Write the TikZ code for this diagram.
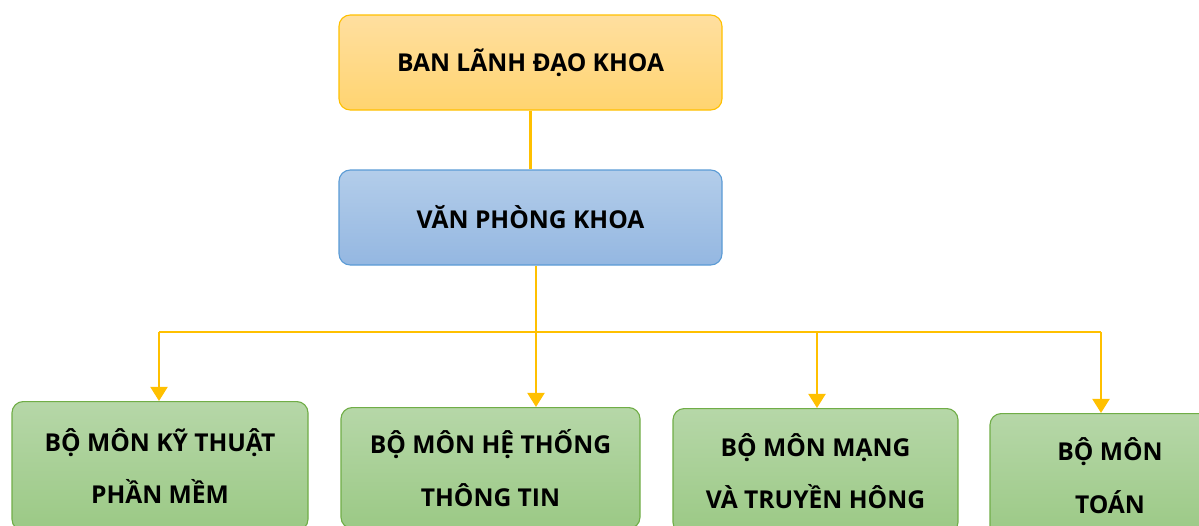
\documentclass[tikz,border=0pt]{standalone}
\usepackage{fontspec}
\setmainfont{Open Sans}
\usetikzlibrary{arrows.meta}
\definecolor{vang}{HTML}{FFC000}
\definecolor{camtren}{HTML}{FFDFA0}
\definecolor{camduoi}{HTML}{FFD470}
\definecolor{xanhtren}{HTML}{B3CDEA}
\definecolor{xanhduoi}{HTML}{94B7E1}
\definecolor{vienxanh}{HTML}{5B9BD5}
\definecolor{lactren}{HTML}{B6D7A8}
\definecolor{lacduoi}{HTML}{9BC985}
\definecolor{vienlac}{HTML}{70AD47}
\tikzset{
  hop/.style={draw, rounded corners=8pt, line width=0.8pt, align=center,
    font=\fontsize{17.5}{37.5}\selectfont\bfseries},
  hopcam/.style={hop, draw=vang, top color=camtren, bottom color=camduoi,
    minimum width=383*0.025cm, minimum height=95*0.025cm},
  hopxanh/.style={hop, draw=vienxanh, top color=xanhtren, bottom color=xanhduoi,
    minimum width=383*0.025cm, minimum height=95*0.025cm},
  hopluc/.style={hop, draw=vienlac, top color=lactren, bottom color=lacduoi, anchor=north},
  noi/.style={draw=vang, line width=1.8pt},
  muiten/.style={noi, -{Triangle[width=12pt,length=10pt]}}
}
\begin{document}
\begin{tikzpicture}[x=0.025cm, y=-0.025cm]
\useasboundingbox (0,0) rectangle (1199,526);
\node[hopcam] (ban) at (530.5,62.5) {BAN LÃNH ĐẠO KHOA};
\node[hopxanh] (van) at (530.5,217.5) {VĂN PHÒNG KHOA};
\node[hopluc, minimum width=296*0.025cm, minimum height=129*0.025cm] (bo1) at (160,401) {BỘ MÔN KỸ THUẬT\\PHẦN MỀM};
\node[hopluc, minimum width=299*0.025cm, minimum height=121*0.025cm] (bo2) at (490.5,407) {BỘ MÔN HỆ THỐNG\\THÔNG TIN};
\node[hopluc, minimum width=285*0.025cm, minimum height=125*0.025cm] (bo3) at (815.5,408) {BỘ MÔN MẠNG\\VÀ TRUYỀN HÔNG};
\node[hopluc, minimum width=240*0.025cm, minimum height=124*0.025cm] (bo4) at (1110,413) {BỘ MÔN\\TOÁN};
\coordinate (a1) at (159,332);
\coordinate (a2) at (536,332);
\coordinate (a3) at (817,332);
\coordinate (a4) at (1101,332);
\draw[noi] (ban) -- (van);
\draw[noi] (a1) -- (a4);
\draw[muiten] (van.south -| a2) -- (bo2.north -| a2);
\draw[muiten] (a1) -- (bo1.north -| a1);
\draw[muiten] (a3) -- (bo3.north -| a3);
\draw[muiten] (a4) -- (bo4.north -| a4);
\end{tikzpicture}
\end{document}
